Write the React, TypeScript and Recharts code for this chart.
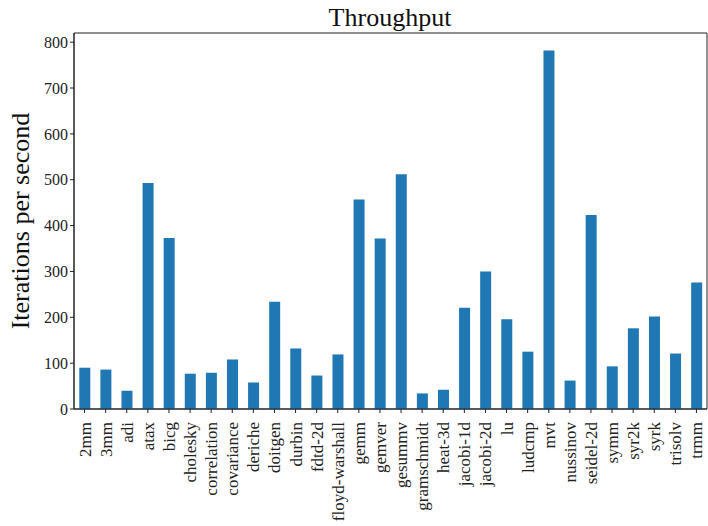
import { BarChart, Bar, XAxis, YAxis, ReferenceArea } from "recharts";

const benchmarks = [
  "2mm", "3mm", "adi", "atax", "bicg", "cholesky", "correlation", "covariance",
  "deriche", "doitgen", "durbin", "fdtd-2d", "floyd-warshall", "gemm", "gemver",
  "gesummv", "gramschmidt", "heat-3d", "jacobi-1d", "jacobi-2d", "lu", "ludcmp",
  "mvt", "nussinov", "seidel-2d", "symm", "syr2k", "syrk", "trisolv", "trmm",
];

const throughput = [
  90, 86, 40, 493, 373, 77, 79, 108,
  58, 234, 132, 73, 119, 457, 372,
  512, 34, 42, 221, 300, 196, 125,
  782, 62, 423, 93, 176, 202, 121, 276,
];

const yTicks = [0, 100, 200, 300, 400, 500, 600, 700, 800];

const FONT = "'Liberation Serif', 'DejaVu Serif', serif";

const data = benchmarks.map((name, i) => ({ name, v: throughput[i] }));

function RotatedTick(props: any) {
  const { x, y, payload } = props;
  return (
    <text
      transform={`translate(${x + 6},${y + 7}) rotate(-90)`}
      textAnchor="end"
      fontFamily={FONT}
      fontSize={17}
      fill="#222"
    >
      {payload.value}
    </text>
  );
}

export default function App() {
  return (
    <div style={{ position: "absolute", left: 0, top: 0, width: 708, height: 526, background: "#fff" }}>
      <BarChart
        width={708}
        height={526}
        data={data}
        margin={{ top: 33, right: 1, left: 0, bottom: 0 }}
        barCategoryGap="25%"
      >
        <text x={390} y={26} textAnchor="middle" fontFamily={FONT} fontSize={26} fill="#111">
          Throughput
        </text>
        <text
          transform="translate(29,221) rotate(-90)"
          textAnchor="middle"
          fontFamily={FONT}
          fontSize={26}
          fill="#111"
        >
          Iterations per second
        </text>
        <XAxis
          dataKey="name"
          interval={0}
          height={117}
          tick={<RotatedTick />}
          tickSize={4}
          axisLine={{ stroke: "#222", strokeWidth: 1 }}
          tickLine={{ stroke: "#222" }}
        />
        <YAxis
          width={74}
          domain={[0, 820]}
          ticks={yTicks}
          interval={0}
          tickSize={4}
          tick={{ fontFamily: FONT, fontSize: 16, fill: "#222" }}
          axisLine={{ stroke: "#222" }}
          tickLine={{ stroke: "#222" }}
        />
        <Bar dataKey="v" fill="#1f77b4" isAnimationActive={false} />
        <ReferenceArea y1={0} y2={820} fill="none" stroke="#222" strokeWidth={1} ifOverflow="visible" />
      </BarChart>
    </div>
  );
}
